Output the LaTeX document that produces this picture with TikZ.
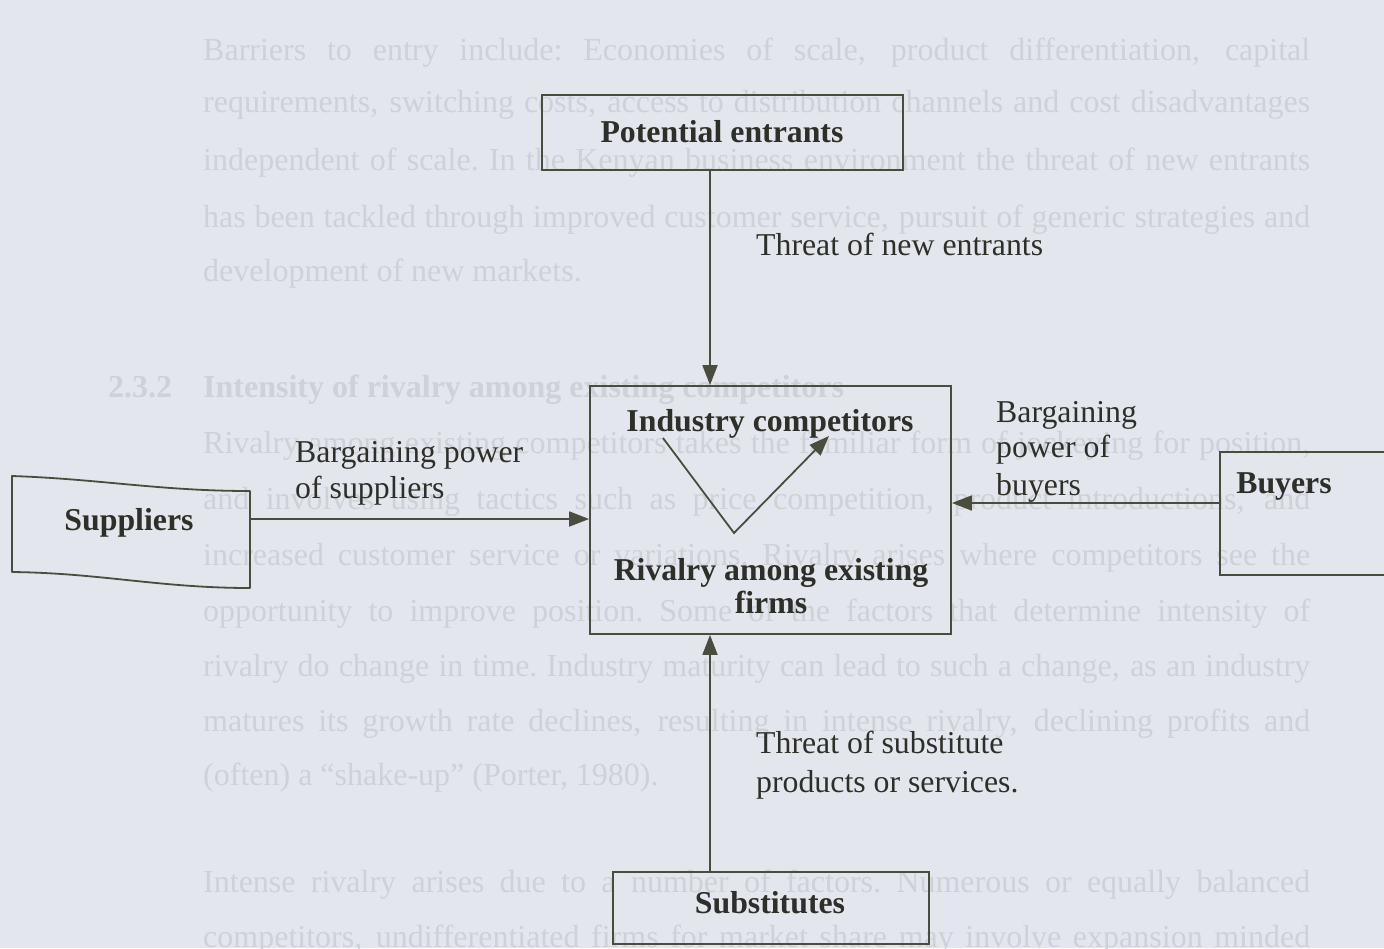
\documentclass[tikz,border=0pt]{standalone}
\usepackage{fontspec}
\setmainfont{Liberation Serif}
\usetikzlibrary{arrows.meta}
\definecolor{pagebg}{RGB}{227,230,237}
\definecolor{ghost}{RGB}{206,209,216}
\definecolor{ink}{RGB}{72,77,62}
\definecolor{txt}{RGB}{45,48,40}
\newcommand\jline[1]{\hbox to 1107pt{\spaceskip=.12em plus 1fil\xspaceskip=.12em plus 1fil\relax #1}}
\begin{document}
\begin{tikzpicture}[x=1pt,y=-1pt,
  ghosttext/.style={text=ghost, font=\fontsize{32}{38}\selectfont, anchor=base west, inner sep=0pt},
  box/.style={draw=ink, line width=1.8pt, rectangle, inner sep=0pt},
  lbl/.style={text=txt, font=\fontsize{31.8}{38}\selectfont, anchor=base west, inner sep=0pt},
  blbl/.style={text=txt, font=\fontsize{31.8}{38}\selectfont\bfseries, anchor=base, inner sep=0pt},
  arr/.style={draw=ink, line width=1.8pt, -{Triangle[length=20pt,width=15pt]}},
  ln/.style={draw=ink, line width=1.8pt}]
\fill[pagebg] (0,0) rectangle (1384,948);
\useasboundingbox (0,0) rectangle (1384,948);
% faint page text behind the figure
\node[ghosttext] (g1) at (203,60) {\jline{Barriers to entry include: Economies of scale, product differentiation, capital}};
\node[ghosttext] (g2) at (203,112) {\jline{requirements, switching costs, access to distribution channels and cost disadvantages}};
\node[ghosttext] (g3) at (203,170) {\jline{independent of scale. In the Kenyan business environment the threat of new entrants}};
\node[ghosttext] (g4) at (203,227) {\jline{has been tackled through improved customer service, pursuit of generic strategies and}};
\node[ghosttext] (g5) at (203,281) {development of new markets.};
\node[ghosttext, font=\fontsize{32}{38}\selectfont\bfseries] (g6) at (108,397) {2.3.2};
\node[ghosttext, font=\fontsize{32}{38}\selectfont\bfseries] (g7) at (203,397) {Intensity of rivalry among existing competitors};
\node[ghosttext] (g8) at (203,453) {\jline{Rivalry among existing competitors takes the familiar form of jockeying for position,}};
\node[ghosttext] (g9) at (203,509) {\jline{and involves using tactics such as price competition, product introductions, and}};
\node[ghosttext] (g10) at (203,565) {\jline{increased customer service or variations. Rivalry arises where competitors see the}};
\node[ghosttext] (g11) at (203,621) {\jline{opportunity to improve position. Some of the factors that determine intensity of}};
\node[ghosttext] (g12) at (203,676) {\jline{rivalry do change in time. Industry maturity can lead to such a change, as an industry}};
\node[ghosttext] (g13) at (203,731) {\jline{matures its growth rate declines, resulting in intense rivalry, declining profits and}};
\node[ghosttext] (g14) at (203,785) {(often) a “shake-up” (Porter, 1980).};
\node[ghosttext] (g15) at (203,892) {\jline{Intense rivalry arises due to a number of factors. Numerous or equally balanced}};
\node[ghosttext] (g16) at (203,947) {\jline{competitors, undifferentiated firms for market share may involve expansion minded}};
% boxes
\node[box, minimum width=361pt, minimum height=75pt] (pe) at (722.5,132.5) {};
\node[blbl] (pet) at (722,142) {Potential entrants};
\node[box, minimum width=361pt, minimum height=248pt] (ind) at (770.5,510) {};
\node[blbl] (indt) at (770,431) {Industry competitors};
\node[blbl] (riv1) at (771,580) {Rivalry among existing};
\node[blbl] (riv2) at (771,613) {firms};
\node[box, minimum width=316pt, minimum height=72pt] (sub) at (771,908) {};
\node[blbl] (subt) at (770,913) {Substitutes};
\node[box, minimum width=190pt, minimum height=123pt] (buy) at (1315,513.5) {};
\node[blbl] (buyt) at (1284,493) {Buyers};
\draw[ln, line join=round] (12,476) .. controls (100,479) and (160,491) .. (250,491) -- (250,588) .. controls (160,588) and (100,573) .. (12,572) -- cycle;
\node[blbl] (supt) at (129,530) {Suppliers};
% connectors
\coordinate (supE) at (250,519);
\coordinate (buyW) at (1220,503);
\coordinate (axis) at (710,0);
\draw[arr] (pe.south -| axis) -- (ind.north -| axis);
\draw[arr] (sub.north -| axis) -- (ind.south -| axis);
\draw[arr] (supE) -- (supE -| ind.west);
\draw[arr] (buy.west |- buyW) -- (buyW -| ind.east);
\coordinate (v1) at (663,438);
\coordinate (v2) at (734,533);
\coordinate (v3) at (829,436);
\draw[arr] (v1) -- (v2) -- (v3);
% labels
\node[lbl] (l1) at (756,255) {Threat of new entrants};
\node[lbl] (l2) at (295,462) {Bargaining power};
\node[lbl] (l3) at (295,498) {of suppliers};
\node[lbl] (l4) at (996,422) {Bargaining};
\node[lbl] (l5) at (996,457) {power of};
\node[lbl] (l6) at (996,495) {buyers};
\node[lbl] (l7) at (756,753) {Threat of substitute};
\node[lbl] (l8) at (756,792) {products or services.};
\end{tikzpicture}
\end{document}
